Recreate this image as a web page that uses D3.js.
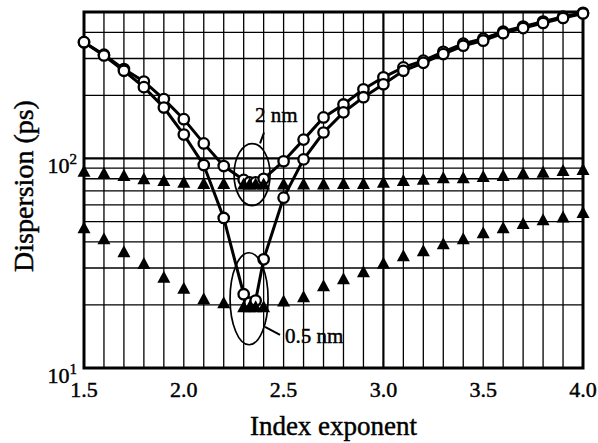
<!DOCTYPE html>
<html>
<head>
<meta charset="utf-8">
<script src="https://cdnjs.cloudflare.com/ajax/libs/d3/7.8.5/d3.min.js"></script>
<style>
  body { margin: 0; background: #fff; }
  text { font-family: "Liberation Serif", "Times New Roman", serif; fill: #000; stroke: #000; stroke-width: 0.45px; }
</style>
</head>
<body>
<div id="chart"></div>
<script>
// index exponent values (extra points around the minimum)
var exponent = [1.5, 1.6, 1.7, 1.8, 1.9, 2.0, 2.1, 2.2, 2.3, 2.33, 2.36, 2.4, 2.5, 2.6,
                2.7, 2.8, 2.9, 3.0, 3.1, 3.2, 3.3, 3.4, 3.5, 3.6, 3.7, 3.8, 3.9, 4.0];

// open circles, joined by lines
var circle2nm  = [359, 313, 267, 233, 192, 154, 118, 92, 79, 77, 77, 80, 97, 123,
                  157, 181, 214, 244, 272, 293, 323, 353, 373, 403, 426, 450, 475, 496];
var circle05nm = [359, 310, 262, 219, 175, 130, 93, 52, 22.5, 20.5, 21, 33, 65, 99,
                  133, 166, 196, 226, 262, 286, 315, 345, 365, 396, 419, 443, 468, 492];

// filled triangles, no line
var triangle2nm  = [87, 85, 83, 80, 78.5, 77, 76, 76, 75.5, 75.5, 75.5, 75.5, 75.5, 75.5,
                    75.5, 76, 76, 77, 78.5, 79.5, 81, 81, 82, 83, 85, 86, 87.5, 88.5];
var triangle05nm = [46.7, 41.4, 35.9, 31.5, 27.1, 24, 21.4, 20.5, 19.6, 19.6, 19.6, 19.6, 20.9, 21.9,
                    24.7, 26.7, 28.8, 31.6, 34.3, 36.3, 39.2, 41.4, 44.2, 46.7, 48.9, 51, 52.5, 55.2];

// axes
var xTicks = [1.5, 2.0, 2.5, 3.0, 3.5, 4.0];
var xTickLabels = ["1.5", "2.0", "2.5", "3.0", "3.5", "4.0"];
var xGrid = [1.6, 1.7, 1.8, 1.9, 2.0, 2.1, 2.2, 2.3, 2.4, 2.5, 2.6, 2.7, 2.8,
             2.9, 3.0, 3.1, 3.2, 3.3, 3.4, 3.5, 3.6, 3.7, 3.8, 3.9];
var yTicks = [10, 100];
var yTickPowers = ["1", "2"];
var yGrid = [20, 30, 40, 50, 60, 70, 80, 90, 100, 200, 300, 400];

// annotations
var notes = [
  {label: "2 nm",   cx: 2.342, cy: 83.8, tx: 2.357, ty: 150,  line: [[2.402, 133], [2.382, 118]]},
  {label: "0.5 nm", cx: 2.327, cy: 21.4, tx: 2.507, ty: 13.2, line: [[2.407, 15.7], [2.482, 14.4]]}
];
var ellipseR = [[18, 31], [19, 46]];

var margin = {top: 12, right: 15, bottom: 75, left: 84},
    width = 598 - margin.left - margin.right,
    height = 443 - margin.top - margin.bottom;

var svg = d3.select("#chart")
            .append("svg")
              .attr("width", width + margin.left + margin.right)
              .attr("height", height + margin.top + margin.bottom)
            .append("g")
              .attr("transform", "translate(" + margin.left + "," + margin.top + ")");

var x = d3.scaleLinear().domain([1.5, 4.0]).range([0, width]);
var y = d3.scaleLog().domain([10, 500]).range([height, 0]);

// grid
svg.append("g")
    .selectAll("line")
    .data(xGrid)
    .enter().append("line")
      .attr("x1", d => x(d)).attr("x2", d => x(d))
      .attr("y1", 0).attr("y2", height)
      .attr("stroke", "#000")
      .attr("stroke-width", d => d === 3.0 ? 2.2 : 1.3);

svg.append("g")
    .selectAll("line")
    .data(yGrid)
    .enter().append("line")
      .attr("x1", 0).attr("x2", width)
      .attr("y1", d => y(d)).attr("y2", d => y(d))
      .attr("stroke", "#000")
      .attr("stroke-width", d => d === 100 ? 2.2 : 1.3);

// frame
svg.append("rect")
    .attr("width", width)
    .attr("height", height)
    .attr("fill", "none")
    .attr("stroke", "#000")
    .attr("stroke-width", 3);

// x tick labels
svg.append("g")
    .selectAll("text")
    .data(xTicks)
    .enter().append("text")
      .attr("x", d => x(d))
      .attr("y", height + 29)
      .attr("text-anchor", "middle")
      .style("font-size", "22px")
      .text((d, i) => xTickLabels[i]);

// y tick labels (10^n)
var yLab = svg.append("g")
    .selectAll("text")
    .data(yTicks)
    .enter().append("text")
      .attr("x", -7)
      .attr("y", d => y(d) + 15)
      .attr("text-anchor", "end")
      .style("font-size", "22px");
yLab.append("tspan").text("10");
yLab.append("tspan")
    .attr("dy", -9)
    .style("font-size", "15px")
    .text((d, i) => yTickPowers[i]);

// axis titles
svg.append("text")
    .attr("x", width / 2)
    .attr("y", height + 67)
    .attr("text-anchor", "middle")
    .style("font-size", "27px")
    .text("Index exponent");

svg.append("text")
    .attr("transform", "translate(" + (33 - margin.left) + "," + 174 + ") rotate(-90)")
    .attr("text-anchor", "middle")
    .style("font-size", "28px")
    .text("Dispersion (ps)");

// lines through the circles
var line = d3.line()
             .x((d, i) => x(exponent[i]))
             .y(d => y(d));

[circle2nm, circle05nm].forEach(function(series) {
  svg.append("path")
      .datum(series)
      .attr("fill", "none")
      .attr("stroke", "#000")
      .attr("stroke-width", 3)
      .attr("d", line);
});

[circle2nm, circle05nm].forEach(function(series) {
  svg.append("g")
      .selectAll("circle")
      .data(series)
      .enter().append("circle")
        .attr("cx", (d, i) => x(exponent[i]))
        .attr("cy", d => y(d))
        .attr("r", 5.2)
        .attr("fill", "#fff")
        .attr("stroke", "#000")
        .attr("stroke-width", 2.3);
});

// triangles, box centred on the value
var tri = "M0,-6.5L6.5,5.5L-6.5,5.5Z";
[triangle2nm, triangle05nm].forEach(function(series) {
  svg.append("g")
      .selectAll("path")
      .data(series)
      .enter().append("path")
        .attr("d", tri)
        .attr("transform", (d, i) => "translate(" + x(exponent[i]) + "," + y(d) + ")")
        .attr("fill", "#000");
});

// ellipses and labels
notes.forEach(function(n, i) {
  svg.append("ellipse")
      .attr("cx", x(n.cx))
      .attr("cy", y(n.cy))
      .attr("rx", ellipseR[i][0])
      .attr("ry", ellipseR[i][1])
      .attr("fill", "none")
      .attr("stroke", "#000")
      .attr("stroke-width", 1.7);
  svg.append("line")
      .attr("x1", x(n.line[0][0])).attr("y1", y(n.line[0][1]))
      .attr("x2", x(n.line[1][0])).attr("y2", y(n.line[1][1]))
      .attr("stroke", "#000")
      .attr("stroke-width", 2);
  svg.append("text")
      .attr("x", x(n.tx))
      .attr("y", y(n.ty))
      .style("font-size", "21px")
      .text(n.label);
});
</script>
</body>
</html>
